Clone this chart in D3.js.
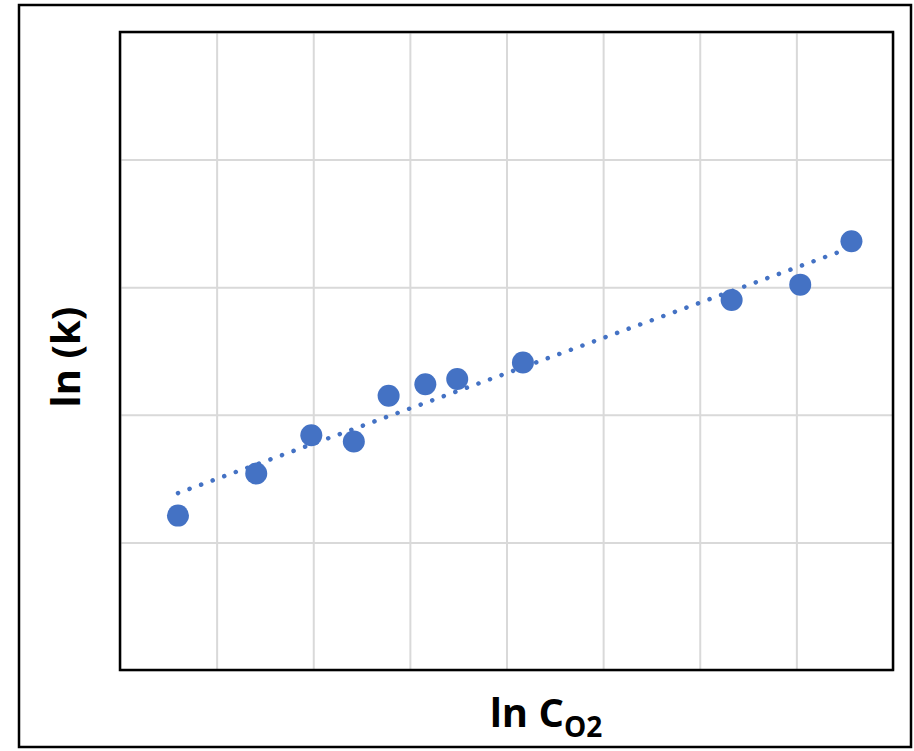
<!DOCTYPE html>
<html lang="en">
<head>
	<meta charset="UTF-8">
	<title>ln k vs ln CO2</title>
	<style>
		body { margin: 0; background: #fff; }
		text { font-family: "Open Sans", "Liberation Sans", sans-serif; font-weight: bold; fill: #000; }
	</style>
</head>
<body>
	<svg id="container" width="914" height="751"></svg>
</body>
<script src="https://cdn.jsdelivr.net/npm/d3@7"></script>
<script>
	// values (no tick labels shown, so arbitrary units)
	let lnCO2 = [0.60, 1.41, 1.98, 2.42, 2.78, 3.16, 3.49, 4.17, 6.33, 7.04, 7.57]
	let lnK   = [1.21, 1.54, 1.84, 1.79, 2.15, 2.24, 2.28, 2.41, 2.90, 3.02, 3.36]
	let xTicks = [0, 1, 2, 3, 4, 5, 6, 7, 8]
	let yTicks = [0, 1, 2, 3, 4, 5]

	let svg = d3.select("#container")
	let pLeft = 120, pRight = 893, pTop = 32, pBottom = 670

	let xscale = d3.scaleLinear().domain([0, 8]).range([pLeft, pRight])
	let yscale = d3.scaleLinear().domain([0, 5]).range([pBottom, pTop])

	// outer frame
	svg.append("rect")
		.attr("x", 19).attr("y", 5).attr("width", 892).attr("height", 742)
		.attr("fill", "none").attr("stroke", "#000").attr("stroke-width", 2.5)

	// gridlines
	svg.append("g")
		.attr("transform", "translate(0," + pBottom + ")")
		.call(d3.axisBottom(xscale).tickValues(xTicks).tickSize(-(pBottom - pTop)).tickFormat(""))
		.call(g => g.select(".domain").remove())
		.selectAll("line").attr("stroke", "#d9d9d9").attr("stroke-width", 2)
	svg.append("g")
		.attr("transform", "translate(" + pLeft + ",0)")
		.call(d3.axisLeft(yscale).tickValues(yTicks).tickSize(-(pRight - pLeft)).tickFormat(""))
		.call(g => g.select(".domain").remove())
		.selectAll("line").attr("stroke", "#d9d9d9").attr("stroke-width", 2)

	// plot frame
	svg.append("rect")
		.attr("x", pLeft).attr("y", pTop).attr("width", pRight - pLeft).attr("height", pBottom - pTop)
		.attr("fill", "none").attr("stroke", "#000").attr("stroke-width", 2.5)

	let data = lnCO2.map((x, i) => ({ x: x, y: lnK[i] }))

	// linear trendline (least squares)
	let mx = d3.mean(data, d => d.x), my = d3.mean(data, d => d.y)
	let slope = d3.sum(data, d => (d.x - mx) * (d.y - my)) / d3.sum(data, d => (d.x - mx) * (d.x - mx))
	let icpt = my - slope * mx
	let ext = d3.extent(data, d => d.x)
	let trend = ext.map(x => ({ x: x, y: icpt + slope * x }))

	let line = d3.line().x(d => xscale(d.x)).y(d => yscale(d.y))
	svg.append("path")
		.datum(trend)
		.attr("d", line)
		.attr("fill", "none")
		.attr("stroke", "#4472c4")
		.attr("stroke-width", 4.5)
		.attr("stroke-linecap", "round")
		.attr("stroke-dasharray", "0.1 12.2")

	svg.append("g").selectAll("circle")
		.data(data)
		.join("circle")
		.attr("cx", d => xscale(d.x))
		.attr("cy", d => yscale(d.y))
		.attr("r", 11)
		.attr("fill", "#4472c4")

	// axis titles
	let xt = svg.append("text")
		.attr("x", 546).attr("y", 727)
		.attr("text-anchor", "middle")
		.attr("font-size", 40)
	xt.append("tspan").text("ln C")
	xt.append("tspan").attr("dy", 10).attr("font-size", 28).text("O2")

	svg.append("text")
		.attr("transform", "translate(80,357) rotate(-90)")
		.attr("text-anchor", "middle")
		.attr("font-size", 40)
		.text("ln (k)")
</script>
</html>
